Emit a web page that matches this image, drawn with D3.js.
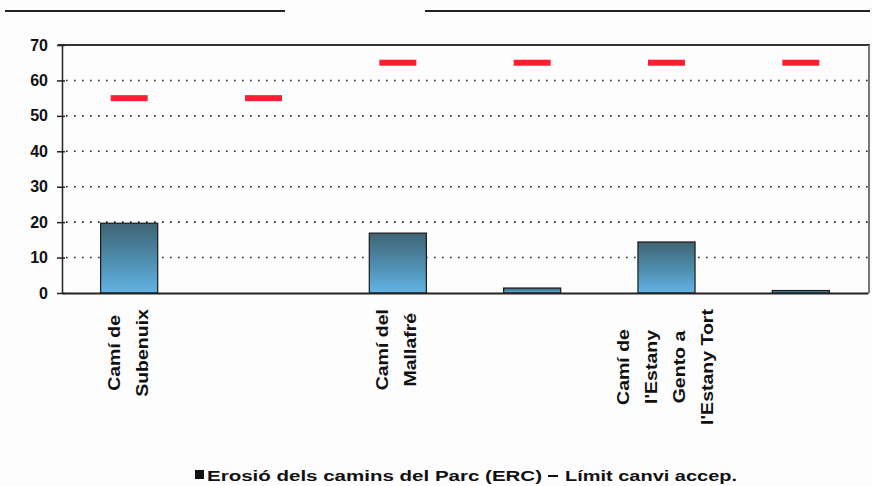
<!DOCTYPE html>
<html>
<head>
<meta charset="utf-8">
<script src="https://cdn.jsdelivr.net/npm/d3@7"></script>
<style>
html,body{margin:0;padding:0;background:#fdfdfd;}
svg{display:block;}
</style>
</head>
<body>
<svg id="chart" width="872" height="486"></svg>
<script>
const categories = ["Camí de\nSubenuix", "", "Camí del\nMallafré", "", "Camí de\nl'Estany\nGento a\nl'Estany Tort", ""];
const erosion = [19.7, 0, 16.9, 1.4, 14.4, 0.7];
const limit = [55, 55, 65, 65, 65, 65];
const yTicks = [0, 10, 20, 30, 40, 50, 60, 70];
const legendLabels = ["Erosió dels camins del Parc (ERC)", "Límit canvi accep."];

(function () {
const svg = d3.select("#chart");
const mLeft = 62, mRight = 868, mTop = 45, mBottom = 293;

const x = d3.scaleBand().domain(d3.range(categories.length)).range([mLeft, mRight]).padding(0);
const y = d3.scaleLinear().domain([0, 70]).range([mBottom, mTop]);

const defs = svg.append("defs");
const grad = defs.append("linearGradient").attr("id", "barGrad").attr("x1", 0).attr("y1", 0).attr("x2", 0).attr("y2", 1);
grad.append("stop").attr("offset", "0%").attr("stop-color", "#3f6474");
grad.append("stop").attr("offset", "55%").attr("stop-color", "#4f8fb0");
grad.append("stop").attr("offset", "100%").attr("stop-color", "#62b4e6");

// scan artifact line at top
svg.append("line").attr("x1", 5).attr("x2", 285).attr("y1", 11).attr("y2", 11).attr("stroke", "#222").attr("stroke-width", 2);
svg.append("line").attr("x1", 425).attr("x2", 870).attr("y1", 11).attr("y2", 11).attr("stroke", "#222").attr("stroke-width", 2);

// gridlines (dotted)
svg.append("g").selectAll("line").data(yTicks.filter(d => d > 0 && d < 70)).join("line")
  .attr("x1", mLeft + 4).attr("x2", mRight)
  .attr("y1", d => y(d)).attr("y2", d => y(d))
  .attr("stroke", "#222").attr("stroke-width", 1.6)
  .attr("stroke-dasharray", "1.6,6.4");

// bars
const bw = x.bandwidth() * 0.425;
svg.append("g").selectAll("rect").data(erosion).join("rect")
  .attr("x", (d, i) => x(i) + x.bandwidth() / 2 - bw / 2)
  .attr("y", d => y(d))
  .attr("width", bw)
  .attr("height", d => y(0) - y(d))
  .attr("fill", "url(#barGrad)")
  .attr("stroke", "#1a1a1a").attr("stroke-width", 1.2);

// frame
svg.append("line").attr("x1", 58).attr("x2", 870).attr("y1", mTop).attr("y2", mTop).attr("stroke", "#333").attr("stroke-width", 2);
svg.append("line").attr("x1", 869).attr("x2", 869).attr("y1", mTop).attr("y2", mBottom).attr("stroke", "#777").attr("stroke-width", 2);

// y axis
const yAxis = d3.axisLeft(y).tickValues(yTicks).tickSize(0).tickPadding(14).tickFormat(d3.format("d"));
const yg = svg.append("g").attr("transform", `translate(${mLeft},0)`).call(yAxis);
yg.select(".domain").attr("stroke", "#222").attr("stroke-width", 1.5);
yg.selectAll("text").attr("font-family", "Liberation Sans, Arial, sans-serif").attr("font-size", 16).attr("font-weight", "bold").attr("fill", "#111");
yg.selectAll(".tick").append("line").attr("x1", -5).attr("x2", 3).attr("stroke", "#222").attr("stroke-width", 1.5);

// x axis
const xg = svg.append("g").attr("transform", `translate(0,${mBottom})`)
  .call(d3.axisBottom(x).tickSize(0).tickFormat(""));
xg.select(".domain").attr("stroke", "#222").attr("stroke-width", 2);

// limit markers (red dashes)
svg.append("g").selectAll("rect").data(limit).join("rect")
  .attr("x", (d, i) => x(i) + x.bandwidth() / 2 - 18.5)
  .attr("y", d => y(d) - 3)
  .attr("width", 37).attr("height", 6)
  .attr("fill", "#ff1f33");

// category labels (rotated, multi-line)
const lineGap = 28;
categories.forEach((c, i) => {
  if (!c) return;
  const lines = c.split("\n");
  const cx = x(i) + x.bandwidth() / 2 - 1;
  const g = svg.append("g");
  const texts = lines.map((t, k) => {
    const lx = cx + (k - (lines.length - 1) / 2) * lineGap;
    const tg = g.append("g");
    const txt = tg.append("text").text(t)
      .attr("font-family", "Liberation Sans, Arial, sans-serif")
      .attr("font-size", 16).attr("font-weight", "bold").attr("fill", "#111")
      .attr("text-anchor", "middle").attr("dominant-baseline", "central");
    return {tg, txt, lx};
  });
  const sx = 1.22;
  const maxLen = d3.max(texts, o => o.txt.node().getComputedTextLength()) * sx;
  const cy = 309 + maxLen / 2;
  texts.forEach(o => o.tg.attr("transform", `translate(${o.lx},${cy}) rotate(-90) scale(${sx},1)`));
});

// legend
svg.append("rect").attr("x", 195).attr("y", 470).attr("width", 9).attr("height", 9).attr("fill", "#111");
svg.append("text").attr("x", 207).attr("y", 481)
  .attr("font-family", "Liberation Sans, Arial, sans-serif").attr("font-size", 14).attr("font-weight", "bold").attr("fill", "#111")
  .attr("textLength", 335).attr("lengthAdjust", "spacingAndGlyphs")
  .text(legendLabels[0]);
svg.append("line").attr("x1", 548).attr("x2", 558).attr("y1", 476).attr("y2", 476).attr("stroke", "#111").attr("stroke-width", 2);
svg.append("text").attr("x", 565).attr("y", 481)
  .attr("font-family", "Liberation Sans, Arial, sans-serif").attr("font-size", 14).attr("font-weight", "bold").attr("fill", "#111")
  .attr("textLength", 172).attr("lengthAdjust", "spacingAndGlyphs")
  .text(legendLabels[1]);
})();
</script>
</body>
</html>
